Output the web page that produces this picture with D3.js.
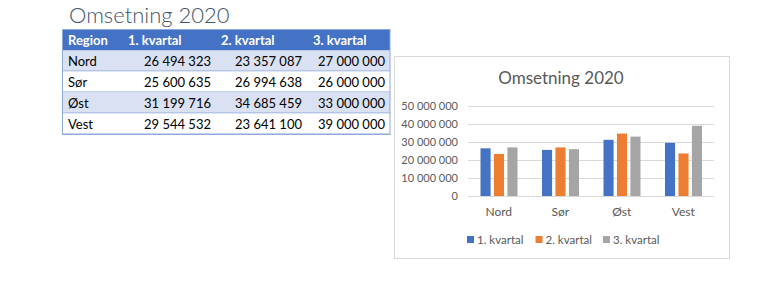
<!DOCTYPE html>
<html>
<head>
<meta charset="utf-8">
<script src="https://cdn.jsdelivr.net/npm/d3@7"></script>
<style>
  body { margin: 0; background: #fff; }
  svg { display: block; font-family: Lato, "Open Sans", sans-serif; }
</style>
</head>
<body>
<div id="graphic"></div>
<script>

var regions = ["Nord", "Sør", "Øst", "Vest"];
var quarters = ["1. kvartal", "2. kvartal", "3. kvartal"];
var q1 = [26494323, 25600635, 31199716, 29544532];
var q2 = [23357087, 26994638, 34685459, 23641100];
var q3 = [27000000, 26000000, 33000000, 39000000];
var yTicks = [0, 10000000, 20000000, 30000000, 40000000, 50000000];
var colors = ["#4472c4", "#ed7d31", "#a5a5a5"];
var title = "Omsetning 2020";

var width = 768, height = 285;

var locale = d3.formatLocale({decimal: ",", thousands: " ", grouping: [3], currency: ["", ""]});
var numFormat = locale.format(",.0f");

var series = [q1, q2, q3];
var rows = regions.map(function(r, i) {
	return {region: r, values: series.map(function(s) { return s[i]; })};
});

var svg = d3.select("#graphic").append("svg")
	.attr("width", width)
	.attr("height", height);

svg.append("rect").attr("width", width).attr("height", height).attr("fill", "#fff");

// sheet title
svg.append("text")
	.attr("x", 69)
	.attr("y", 23)
	.attr("fill", "#44546a")
	.style("font-size", "22px")
	.style("font-weight", 300)
	.text(title);

// ---- table ----
var table = svg.append("g").attr("class", "table");
var tLeft = 62.5, tRight = 390, tTop = 29.5, headH = 21, rowH = 21;
var colRight = [211, 302, 385];
var headLeft = [128, 221, 313];

table.append("rect")
	.attr("x", tLeft).attr("y", tTop)
	.attr("width", tRight - tLeft).attr("height", headH)
	.attr("fill", "#4472c4");

table.append("text")
	.attr("x", 68).attr("y", tTop + headH / 2)
	.attr("dy", "0.35em")
	.attr("fill", "#fff")
	.style("font-size", "13px").style("font-weight", "bold")
	.text("Region");

quarters.forEach(function(q, i) {
	table.append("text")
		.attr("x", headLeft[i]).attr("y", tTop + headH / 2)
		.attr("dy", "0.35em")
		.attr("fill", "#fff")
		.style("font-size", "13px").style("font-weight", "bold")
		.text(q);
});

var row = table.selectAll(".row")
	.data(rows)
	.enter().append("g")
	.attr("class", "row")
	.attr("transform", function(d, i) { return "translate(0," + (tTop + headH + i * rowH) + ")"; });

row.append("rect")
	.attr("x", tLeft).attr("width", tRight - tLeft).attr("height", rowH)
	.attr("fill", function(d, i) { return i % 2 === 0 ? "#d9e1f2" : "#fff"; });

row.append("line")
	.attr("x1", tLeft).attr("x2", tRight)
	.attr("y1", rowH - 0.5).attr("y2", rowH - 0.5)
	.attr("stroke", "#8ea9db").attr("stroke-width", 1);

row.append("text")
	.attr("x", 68).attr("y", rowH / 2).attr("dy", "0.35em")
	.attr("fill", "#000")
	.style("font-size", "13px")
	.text(function(d) { return d.region; });

row.selectAll(".val")
	.data(function(d) { return d.values; })
	.enter().append("text")
	.attr("class", "val")
	.attr("x", function(d, i) { return colRight[i]; })
	.attr("y", rowH / 2).attr("dy", "0.35em")
	.attr("text-anchor", "end")
	.attr("fill", "#000")
	.style("font-size", "13px")
	.text(function(d) { return numFormat(d); });

table.append("rect")
	.attr("x", tLeft).attr("y", tTop)
	.attr("width", tRight - tLeft).attr("height", headH + rows.length * rowH)
	.attr("fill", "none")
	.attr("stroke", "#8ea9db").attr("stroke-width", 1);

// ---- chart ----
var chart = svg.append("g").attr("class", "chart");

chart.append("rect")
	.attr("x", 394.5).attr("y", 56.5)
	.attr("width", 335).attr("height", 202)
	.attr("fill", "#fff")
	.attr("stroke", "#d9d9d9");

chart.append("text")
	.attr("x", 561).attr("y", 84)
	.attr("text-anchor", "middle")
	.attr("fill", "#595959")
	.style("font-size", "17px")
	.text(title);

var y = d3.scaleLinear().domain([0, 50000000]).range([196, 106]);
var x0 = d3.scaleBand().domain(regions).range([468, 714]);
var x1 = d3.scaleBand().domain(quarters).range([12.5, 49.5]).paddingInner(0.25);

var yAxis = chart.append("g")
	.attr("transform", "translate(468,0)")
	.call(d3.axisLeft(y).tickValues(yTicks).tickSize(-246).tickFormat(function(d) { return numFormat(d); }).tickPadding(10));
yAxis.select(".domain").remove();
yAxis.selectAll(".tick line").attr("stroke", "#d9d9d9");
yAxis.selectAll(".tick text").attr("fill", "#595959").style("font-size", "11px").style("font-family", "Lato, sans-serif");

var group = chart.selectAll(".grp")
	.data(rows)
	.enter().append("g")
	.attr("class", "grp")
	.attr("transform", function(d) { return "translate(" + x0(d.region) + ",0)"; });

group.selectAll("rect")
	.data(function(d) { return d.values.map(function(v, i) { return {q: quarters[i], v: v, i: i}; }); })
	.enter().append("rect")
	.attr("x", function(d) { return x1(d.q); })
	.attr("width", x1.bandwidth())
	.attr("y", function(d) { return y(d.v); })
	.attr("height", function(d) { return y(0) - y(d.v); })
	.attr("fill", function(d) { return colors[d.i]; });

var xAxis = chart.append("g")
	.attr("transform", "translate(0,196)")
	.call(d3.axisBottom(x0).tickSize(0).tickPadding(11));
xAxis.select(".domain").remove();
xAxis.selectAll(".tick text").attr("fill", "#595959").style("font-size", "12px").style("font-family", "Lato, sans-serif");

// legend
var legendX = [467, 535.5, 603];
var legend = chart.selectAll(".legend")
	.data(quarters)
	.enter().append("g")
	.attr("class", "legend")
	.attr("transform", function(d, i) { return "translate(" + legendX[i] + ",239.5)"; });

legend.append("rect")
	.attr("x", 0).attr("y", -3.5)
	.attr("width", 7).attr("height", 7)
	.attr("fill", function(d, i) { return colors[i]; });

legend.append("text")
	.attr("x", 10).attr("dy", "0.35em")
	.attr("fill", "#595959")
	.style("font-size", "11.5px")
	.text(function(d) { return d; });

</script>
</body>
</html>
